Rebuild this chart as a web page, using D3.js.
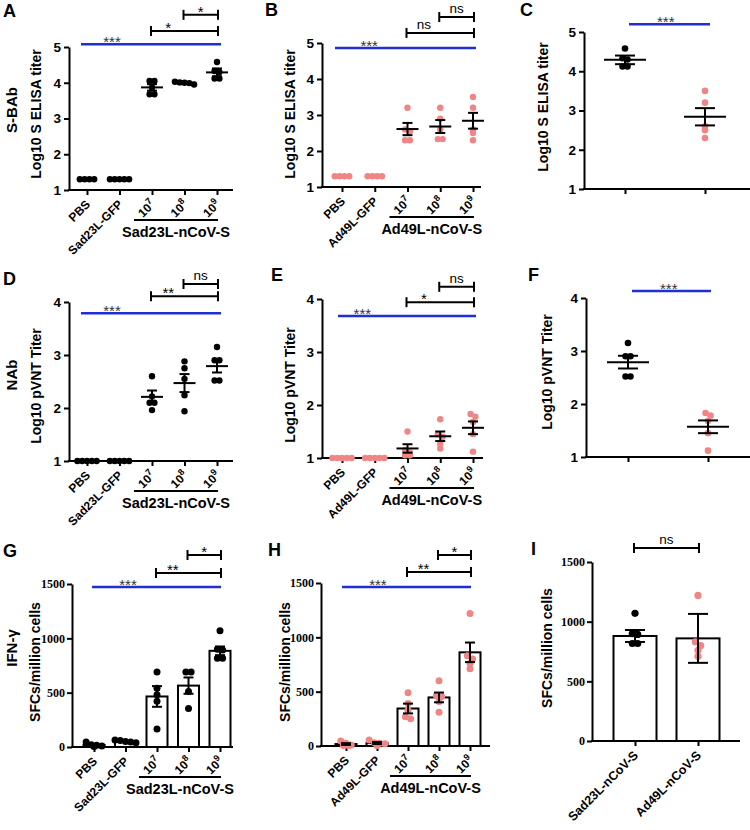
<!DOCTYPE html>
<html><head><meta charset="utf-8">
<script src="https://cdn.jsdelivr.net/npm/d3@7"></script>
<style>body{margin:0;background:#fff}svg{display:block}</style>
</head><body>
<script>
// ---------- DATA ----------
const catsSad = ["PBS", "Sad23L-GFP", "10^7", "10^8", "10^9"];
const catsAd = ["PBS", "Ad49L-GFP", "10^7", "10^8", "10^9"];
const catsCmp = ["Sad23L-nCoV-S", "Ad49L-nCoV-S"];
const groupSad = "Sad23L-nCoV-S";
const groupAd = "Ad49L-nCoV-S";
const ticksElisa = [1, 2, 3, 4, 5];
const ticksPvnt = [1, 2, 3, 4];
const ticksSfc = [0, 500, 1000, 1500];

// S-BAb (Log10 S ELISA titer)
const elisaSadPts = [[1.3,1.3,1.3,1.3],[1.3,1.3,1.3,1.3,1.3],[4.05,4.05,3.87,3.68,3.68],[4.03,4.01,4.0,3.99,3.95],[4.58,4.33,4.3,4.12,4.12]];
const elisaSadMean = [null, null, 3.87, 4.0, 4.29];
const elisaSadErr = [0, 0, 0.09, 0.02, 0.11];
const elisaAdPts = [[1.3,1.3,1.3,1.3],[1.3,1.3,1.3,1.3],[3.2,2.6,2.55,2.3,2.3],[3.2,2.9,2.6,2.33,2.33],[3.5,3.2,2.6,2.5,2.3]];
const elisaAdMean = [null, null, 2.61, 2.68, 2.84];
const elisaAdErr = [0, 0, 0.17, 0.18, 0.22];

// NAb (Log10 pVNT Titer)
const pvntSadPts = [[1,1,1,1,1],[1,1,1,1,1],[2.6,2.22,2.1,2.1,1.96],[2.88,2.75,2.55,2.24,1.94],[3.15,2.9,2.9,2.52,2.52]];
const pvntSadMean = [null, null, 2.21, 2.47, 2.79];
const pvntSadErr = [0, 0, 0.12, 0.17, 0.12];
const pvntAdPts = [[1,1,1,1,1],[1,1,1,1,1],[1.5,1.15,1.1,1.05,1.05],[1.73,1.45,1.4,1.27,1.18],[1.83,1.78,1.68,1.45,1.12]];
const pvntAdMean = [null, null, 1.18, 1.41, 1.57];
const pvntAdErr = [0, 0, 0.08, 0.09, 0.12];

// IFN-gamma (SFCs/million cells)
const ifnSadPts = [[45,20,15,10,5],[65,60,50,45,40],[690,540,480,420,165],[690,690,510,355],[1070,893,899,817,817]];
const ifnSadMean = [19, 52, 465, 565, 885];
const ifnSadErr = [7, 5, 95, 75, 40];
const ifnAdPts = [[45,25,10,5,5],[55,30,25,20,5],[490,390,330,270,250],[600,465,455,410,310],[1220,830,800,760,710]];
const ifnAdMean = [18, 27, 345, 447, 862];
const ifnAdErr = [8, 9, 45, 45, 90];
const ifnCmpMean = [880, 860];
const ifnCmpErr = [50, 205];

// ---------- STYLE ----------
const BLACK = "#000", PINK = "#f08585", BLUE = "#1e2fd6";
const SANS = "'Liberation Sans', Arial, Helvetica, sans-serif";
const SERIF = "'Liberation Serif', 'Times New Roman', serif";

const svg = d3.select("body").append("svg").attr("width", 750).attr("height", 830);

function swarm(vals, y, r, sp) {
  const idx = vals.map((v, i) => ({ v, i, py: y(v) })).sort((a, b) => a.py - b.py);
  const rows = [];
  idx.forEach(p => {
    const last = rows[rows.length - 1];
    if (last && Math.abs(p.py - last[0].py) < r * 1.1) last.push(p); else rows.push([p]);
  });
  const out = [];
  rows.forEach(row => row.forEach((p, k) => out.push({ py: p.py, dx: (k - (row.length - 1) / 2) * sp })));
  return out;
}

function drawPanel(o) {
  const g = svg.append("g");
  const y = d3.scaleLinear().domain(o.domain).range([o.yBot, o.yTop]);
  const x = d3.scalePoint().domain(d3.range(o.cats.length)).range(o.xRange);

  // y axis
  const ya = g.append("g").attr("transform", `translate(${o.axisX},0)`)
    .call(d3.axisLeft(y).tickValues(o.ticks).tickSize(5).tickSizeOuter(0).tickPadding(o.tickPad).tickFormat(d3.format("d")));
  ya.select(".domain").attr("stroke-width", 2);
  ya.selectAll(".tick line").attr("stroke-width", 2);
  ya.selectAll(".tick text").attr("font-family", o.tickFont).attr("font-weight", "bold")
    .attr("font-size", o.tickFs).attr("fill", "#000");

  // x axis
  g.append("line").attr("x1", o.axisX - 1).attr("x2", o.xRight).attr("y1", o.yBot).attr("y2", o.yBot)
    .attr("stroke", "#000").attr("stroke-width", 2);
  const xa = g.append("g").attr("transform", `translate(0,${o.yBot})`)
    .call(d3.axisBottom(x).tickSize(5).tickSizeOuter(0).tickFormat(""));
  xa.select(".domain").remove();
  xa.selectAll(".tick line").attr("stroke-width", 2);

  // x labels
  if (o.xLabels) {
    o.cats.forEach((c, i) => {
      const t = g.append("text").attr("transform", `translate(${x(i) + 4},${o.yBot + 15}) rotate(-45)`)
        .attr("text-anchor", "end").attr("font-family", SANS).attr("font-weight", "bold").attr("font-size", o.xFs || 12);
      if (c.includes("^")) {
        const [b, e] = c.split("^");
        t.append("tspan").text(b);
        t.append("tspan").attr("dy", -5).attr("font-size", 9).text(e);
      } else t.text(c);
    });
  }
  // group underline
  if (o.group) {
    const gx0 = x(2) - 18, gx1 = x(4) + 1;
    g.append("line").attr("x1", gx0).attr("x2", gx1).attr("y1", o.yBot + 30).attr("y2", o.yBot + 30)
      .attr("stroke", "#000").attr("stroke-width", 2);
    g.append("text").attr("x", (gx0 + gx1) / 2).attr("y", o.yBot + 47).attr("text-anchor", "middle")
      .attr("font-family", SANS).attr("font-weight", "bold").attr("font-size", 14.5).text(o.group);
  }

  // bars
  if (o.type === "bar") {
    g.selectAll("rect.bar").data(o.means).join("rect").attr("class", "bar")
      .attr("x", (d, i) => x(i) - o.bw / 2).attr("y", d => y(d))
      .attr("width", o.bw).attr("height", d => o.yBot - y(d))
      .attr("fill", "#fff").attr("stroke", "#000").attr("stroke-width", 2);
  }
  // dots
  o.pts.forEach((vals, i) => {
    const s = swarm(vals, y, o.r, o.r * 1.5);
    g.selectAll(null).data(s).join("circle")
      .attr("cx", d => x(i) + d.dx).attr("cy", d => d.py).attr("r", o.r).attr("fill", o.colors[i]);
  });
  // mean / error
  o.means.forEach((m, i) => {
    if (m == null) return;
    const e = o.errs[i], cx = x(i);
    const ln = (x1, y1, x2, y2) => g.append("line").attr("x1", x1).attr("y1", y1).attr("x2", x2).attr("y2", y2)
      .attr("stroke", "#000").attr("stroke-width", 2);
    if (o.type !== "bar") ln(cx - o.mw, y(m), cx + o.mw, y(m));
    if (e > 0) {
      ln(cx, y(m - e), cx, y(m + e));
      ln(cx - o.cw, y(m + e), cx + o.cw, y(m + e));
      ln(cx - o.cw, y(m - e), cx + o.cw, y(m - e));
    }
  });

  // blue significance line
  if (o.blue) {
    const by = y(o.blue.v);
    g.append("line").attr("x1", x(0) + o.blue.dx[0]).attr("x2", x(o.cats.length - 1) + o.blue.dx[1])
      .attr("y1", by).attr("y2", by).attr("stroke", BLUE).attr("stroke-width", 2.5);
    const sx = x(0) + o.blue.at * (x(1) - x(0));
    g.append("text").attr("x", sx).attr("y", by + 3).attr("text-anchor", "middle")
      .attr("font-family", SANS).attr("font-size", 15).attr("fill", "#333").text("***");
  }
  // brackets
  (o.brackets || []).forEach(b => {
    const by = y(b.v), x0 = x(b.a) - 1, x1 = x(b.b) + 1;
    const ln = (a1, b1, a2, b2) => g.append("line").attr("x1", a1).attr("y1", b1).attr("x2", a2).attr("y2", b2)
      .attr("stroke", "#000").attr("stroke-width", 2);
    ln(x0, by, x1, by); ln(x0, by - 5, x0, by + 5); ln(x1, by - 5, x1, by + 5);
    const lx = (x(b.a) + x(b.a + 1)) / 2;
    const star = b.label.includes("*");
    g.append("text").attr("x", lx).attr("y", star ? by + 2 : by - 4).attr("text-anchor", "middle")
      .attr("font-family", SANS).attr("font-size", star ? 15 : 13.5).attr("fill", "#000").text(b.label);
  });

  // titles
  const rot = (tx, ty, txt, fs, w) => svg.append("text").attr("transform", `translate(${tx},${ty}) rotate(-90)`)
    .attr("text-anchor", "middle").attr("dominant-baseline", "central").attr("font-family", SANS)
    .attr("font-weight", w).attr("font-size", fs).text(txt);
  rot(o.title[0], o.title[1], o.title[2], 14, "bold");
  if (o.side) rot(o.side[0], o.side[1], o.side[2], 15, "bold");
  svg.append("text").attr("x", o.letter[0]).attr("y", o.letter[1]).attr("font-family", SANS)
    .attr("font-weight", "bold").attr("font-size", 18).text(o.letter[2]);
}

const scatterBase = { type: "scatter", tickFont: SANS, tickFs: 13.5, tickPad: 3, r: 3.2, mw: 11, cw: 5 };
const barBase = { type: "bar", tickFont: SERIF, tickFs: 12, tickPad: 2, r: 3.5, bw: 21, cw: 5 };

// A
drawPanel({ ...scatterBase, letter: [3, 17, "A"], axisX: 69, xRight: 233, yBot: 190, yTop: 47, domain: [1, 5], ticks: ticksElisa,
  xRange: [87, 217], cats: catsSad, xLabels: true, group: groupSad,
  pts: elisaSadPts, means: elisaSadMean, errs: elisaSadErr, colors: catsSad.map(() => BLACK),
  blue: { v: 5.08, dx: [-6, 4], at: 0.77 },
  brackets: [{ a: 2, b: 4, v: 5.45, label: "*" }, { a: 3, b: 4, v: 5.9, label: "*" }],
  title: [36, 114, "Log10 S ELISA titer"], side: [11, 110, "S-BAb"] });
// B
drawPanel({ ...scatterBase, letter: [265, 16, "B"], axisX: 322, xRight: 481, yBot: 187, yTop: 43, domain: [1, 5], ticks: ticksElisa,
  xRange: [342, 473], cats: catsAd, xLabels: true, group: groupAd,
  pts: elisaAdPts, means: elisaAdMean, errs: elisaAdErr, colors: catsAd.map(() => PINK),
  blue: { v: 4.86, dx: [-7, 3], at: 0.83 },
  brackets: [{ a: 2, b: 4, v: 5.28, label: "ns" }, { a: 3, b: 4, v: 5.72, label: "ns" }],
  title: [290, 114, "Log10 S ELISA titer"] });
// C
drawPanel({ ...scatterBase, letter: [520, 16, "C"], axisX: 584, xRight: 750, yBot: 189, yTop: 32, domain: [1, 5], ticks: ticksElisa,
  xRange: [625, 705], cats: catsCmp, xLabels: false,
  pts: [elisaSadPts[4], elisaAdPts[4]], means: [elisaSadMean[4], elisaAdMean[4]], errs: [elisaSadErr[4], elisaAdErr[4]],
  colors: [BLACK, PINK], mw: 21, cw: 10, r: 3.3,
  blue: { v: 5.2, dx: [4, 5], at: 0.51 },
  title: [543, 107, "Log10 S ELISA titer"] });
// D
drawPanel({ ...scatterBase, letter: [3, 285, "D"], axisX: 69, xRight: 233, yBot: 461, yTop: 302, domain: [1, 4], ticks: ticksPvnt,
  xRange: [87, 217], cats: catsSad, xLabels: true, group: groupSad,
  pts: pvntSadPts, means: pvntSadMean, errs: pvntSadErr, colors: catsSad.map(() => BLACK),
  blue: { v: 3.79, dx: [-6, 4], at: 0.77 },
  brackets: [{ a: 2, b: 4, v: 4.11, label: "**" }, { a: 3, b: 4, v: 4.34, label: "ns" }],
  title: [36, 386, "Log10 pVNT Titer"], side: [11, 375, "NAb"] });
// E
drawPanel({ ...scatterBase, letter: [271, 281, "E"], axisX: 322, xRight: 483, yBot: 458, yTop: 299, domain: [1, 4], ticks: ticksPvnt,
  xRange: [342, 473], cats: catsAd, xLabels: true, group: groupAd,
  pts: pvntAdPts, means: pvntAdMean, errs: pvntAdErr, colors: catsAd.map(() => PINK),
  blue: { v: 3.68, dx: [-4, 3], at: 0.62 },
  brackets: [{ a: 2, b: 4, v: 3.94, label: "*" }, { a: 3, b: 4, v: 4.23, label: "ns" }],
  title: [290, 385, "Log10 pVNT Titer"] });
// F
drawPanel({ ...scatterBase, letter: [528, 281, "F"], axisX: 586, xRight: 750, yBot: 457, yTop: 298, domain: [1, 4], ticks: ticksPvnt,
  xRange: [628, 708], cats: catsCmp, xLabels: false,
  pts: [pvntSadPts[4], pvntAdPts[4]], means: [pvntSadMean[4], pvntAdMean[4]], errs: [pvntSadErr[4], pvntAdErr[4]],
  colors: [BLACK, PINK], mw: 21, cw: 10, r: 3.3,
  blue: { v: 4.13, dx: [4, 3], at: 0.51 },
  title: [547, 372, "Log10 pVNT Titer"] });
// G
drawPanel({ ...barBase, letter: [3, 557, "G"], axisX: 72, xRight: 233, yBot: 747, yTop: 584, domain: [0, 1500], ticks: ticksSfc,
  xRange: [94, 220], cats: catsSad, xLabels: true, group: groupSad,
  pts: ifnSadPts, means: ifnSadMean, errs: ifnSadErr, colors: catsSad.map(() => BLACK),
  blue: { v: 1472, dx: [-2, 1], at: 1.08 },
  brackets: [{ a: 2, b: 4, v: 1601, label: "**" }, { a: 3, b: 4, v: 1767, label: "*" }],
  title: [35, 662, "SFCs/million cells"], side: [11, 648, "IFN-γ"] });
// H
drawPanel({ ...barBase, letter: [268, 556, "H"], axisX: 321, xRight: 490, yBot: 746, yTop: 583, domain: [0, 1500], ticks: ticksSfc,
  xRange: [346, 470], cats: catsAd, xLabels: true, group: groupAd,
  pts: ifnAdPts, means: ifnAdMean, errs: ifnAdErr, colors: catsAd.map(() => PINK),
  blue: { v: 1463, dx: [-4, 1], at: 1.03 },
  brackets: [{ a: 2, b: 4, v: 1601, label: "**" }, { a: 3, b: 4, v: 1758, label: "*" }],
  title: [285, 662, "SFCs/million cells"] });
// I
drawPanel({ ...barBase, letter: [531, 555, "I"], axisX: 592, xRight: 740, yBot: 741, yTop: 562, domain: [0, 1500], ticks: ticksSfc,
  xRange: [635, 698], cats: catsCmp, xLabels: true, xFs: 12.5,
  pts: [ifnSadPts[4], ifnAdPts[4]], means: ifnCmpMean, errs: ifnCmpErr, colors: [BLACK, PINK],
  bw: 43, cw: 10, r: 3.6,
  brackets: [{ a: 0, b: 1, v: 1617, label: "ns" }],
  title: [547, 648, "SFCs/million cells"] });
</script>
</body></html>
